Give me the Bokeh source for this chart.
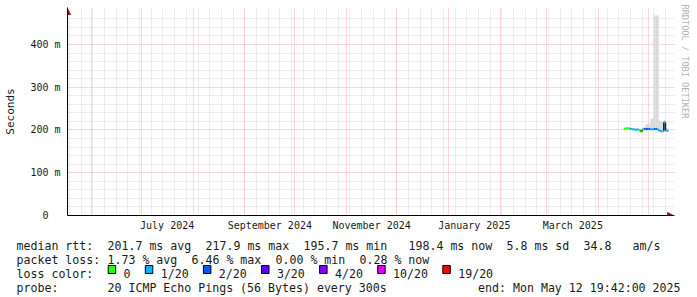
from datetime import datetime, timedelta
from bokeh.plotting import figure
from bokeh.layouts import column
from bokeh.models import (Range1d, FixedTicker, Grid, Arrow, NormalHead, Title,
                          DatetimeTickFormatter)
from bokeh.core.properties import value
from bokeh.embed import file_html
from bokeh.resources import INLINE

# ---------------- data ----------------
end_time = datetime(2025, 5, 12, 19, 42)
span_days = 360
first_day = datetime(2025, 4, 16)

median_ms = [203.0, 204.0, 204.2, 203.5, 202.2, 201.6, 201.0, 200.6, 201.0, 200.0,
             195.7, 201.0, 202.5, 202.6, 202.3, 202.5, 202.0, 201.8, 202.6, 202.4,
             201.0, 199.0, 197.2, 197.0, 217.9, 198.4, 198.4]
loss_count = [0, 0, 0, 0, 1, 1, 1, 1, 1, 0,
              0, 0, 2, 2, 2, 2, 1, 1, 2, 2,
              1, 1, 1, 1, 1, 1, 1]
smoke_lo = [201.5, 202.5, 202.5, 202.0, 200.5, 200.0, 199.5, 199.0, 199.5, 198.0,
            194.0, 199.0, 200.0, 199.0, 199.0, 199.5, 199.0, 199.0, 199.5, 199.5,
            198.5, 197.0, 195.0, 195.0, 200.0, 196.0, 196.5]
smoke_hi = [205.0, 206.0, 206.5, 206.0, 205.0, 204.5, 204.0, 203.5, 204.0, 203.0,
            199.0, 205.0, 207.0, 213.0, 214.0, 215.0, 226.0, 227.0, 468.0, 468.0,
            468.0, 222.0, 220.0, 219.0, 224.0, 205.0, 204.0]

loss_levels = [0, 1, 2, 3, 4, 10, 19]
loss_labels = ["0", "1/20", "2/20", "3/20", "4/20", "10/20", "19/20"]
loss_colors = ["#26ff00", "#00b8ff", "#0059ff", "#5e00ff", "#7e00ff", "#dd00ff", "#ff0000"]

y_max_ms = 472.5
y_ticks = [0, 100, 200, 300, 400]
y_tick_labels = ["0\u00a0\u00a0", "100 m", "200 m", "300 m", "400 m"]
label_months = [(2024, 7), (2024, 9), (2024, 11), (2025, 1), (2025, 3)]

legend_rtt = [("median rtt:", 0), ("201.7 ms avg", 13), ("217.9 ms max", 27),
              ("195.7 ms min", 41), ("198.4 ms now", 56), ("5.8 ms sd", 70),
              ("34.8", 81), ("am/s", 88)]
legend_loss = [("packet loss:", 0), ("1.73 % avg", 13), ("6.46 % max", 25),
               ("0.00 % min", 37), ("0.28 % now", 49)]
probe_label = "probe:"
probe_text = "20 ICMP Echo Pings (56 Bytes) every 300s"
end_text = "end: Mon May 12 19:42:00 2025"
watermark = "RRDTOOL / TOBI OETIKER"

# ---------------- helpers ----------------
EPOCH = datetime(1970, 1, 1)
def ms(d):
    return (d - EPOCH).total_seconds() * 1000.0

def month_start(y, m):
    return datetime(y, m, 1)

def next_month(y, m):
    return (y + 1, 1) if m == 12 else (y, m + 1)

start_time = end_time - timedelta(days=span_days)
n = len(median_ms)
t0 = [first_day + timedelta(days=i) for i in range(n)]
t1 = t0[1:] + [end_time]

def loss_color(c):
    col = loss_colors[0]
    for lv, cl in zip(loss_levels, loss_colors):
        if c >= lv:
            col = cl
    return col

MONO = "DejaVu Sans Mono"
TXT = "#1a1a1a"

# layout constants (canvas px)
W, H = 697, 297
FL, FR, FT, FB = 67, 668, 13, 215      # graph area
EXT = 6                                # extra frame room for axis arrows
CHART_H = 233
px_per_day = (FR - FL) / span_days
px_per_ms = (FB - FT) / y_max_ms
x_end_ext = end_time + timedelta(days=EXT / px_per_day)
y_top_ext = y_max_ms + EXT / px_per_ms

p = figure(width=W, height=CHART_H, x_axis_type="datetime",
           x_range=Range1d(ms(start_time), ms(x_end_ext)), y_range=Range1d(0, y_top_ext),
           output_backend="svg", toolbar_location=None,
           min_border_left=FL, min_border_right=W - FR - EXT,
           min_border_top=FT - EXT, min_border_bottom=CHART_H - FB)
p.frame_align = False
p.outline_line_color = None
p.background_fill_color = "white"
p.border_fill_color = "white"
p.xgrid.visible = False
p.ygrid.visible = False

# grids
sundays = []
d = datetime(start_time.year, start_time.month, start_time.day)
while d.weekday() != 6:
    d += timedelta(days=1)
while d < end_time:
    sundays.append(ms(d))
    d += timedelta(days=7)
month_lines = []
ym = (start_time.year, start_time.month)
while True:
    ym = next_month(*ym)
    mstart = month_start(*ym)
    if mstart > end_time:
        break
    month_lines.append(ms(mstart))
y_minor = [v for v in range(20, 480, 20) if v % 100 != 0]
y_major = [v for v in y_ticks if v > 0]

minor_col, major_col = "#dadada", "#f5b0b0"
p.add_layout(Grid(dimension=0, ticker=FixedTicker(ticks=sundays),
                  grid_line_color=minor_col, grid_line_dash="1 1"))
p.add_layout(Grid(dimension=1, ticker=FixedTicker(ticks=y_minor),
                  grid_line_color=minor_col, grid_line_dash="1 1"))
p.add_layout(Grid(dimension=0, ticker=FixedTicker(ticks=month_lines),
                  grid_line_color=major_col, grid_line_dash="1 1"))
p.add_layout(Grid(dimension=1, ticker=FixedTicker(ticks=y_major),
                  grid_line_color=major_col, grid_line_dash="1 1"))

# smoke
p.quad(left=[ms(a) for a in t0], right=[ms(b) for b in t1], bottom=smoke_lo, top=smoke_hi,
       fill_color="#d8d8d8", line_color=None)

# median line: vertical connectors (dark) and horizontal colored steps
p.segment(x0=[ms(a) for a in t0[1:]], x1=[ms(a) for a in t0[1:]],
          y0=median_ms[:-1], y1=median_ms[1:], line_color="#202020", line_width=1.5)
p.segment(x0=[ms(a) for a in t0], x1=[ms(b) for b in t1], y0=median_ms, y1=median_ms,
          line_color=[loss_color(c) for c in loss_count], line_width=2)

# axes
fmt = "%B %Y"
p.xaxis.ticker = FixedTicker(ticks=[
    (ms(month_start(y, m)) + ms(month_start(*next_month(y, m)))) / 2 for (y, m) in label_months])
p.xaxis.formatter = DatetimeTickFormatter(
    microseconds=fmt, milliseconds=fmt, seconds=fmt, minsec=fmt, minutes=fmt,
    hourmin=fmt, hours=fmt, days=fmt, months=fmt, years=fmt)
p.yaxis.ticker = FixedTicker(ticks=y_ticks)
p.yaxis.major_label_overrides = {t: l for t, l in zip(y_ticks, y_tick_labels)}
for ax in (p.xaxis[0], p.yaxis[0]):
    ax.axis_line_color = "black"
    ax.major_tick_line_color = None
    ax.minor_tick_line_color = None
    ax.major_tick_out = 0
    ax.major_tick_in = 0
    ax.minor_tick_out = 0
    ax.minor_tick_in = 0
    ax.major_label_text_font = MONO
    ax.major_label_text_font_size = "10px"
    ax.major_label_text_color = TXT
p.xaxis.major_label_standoff = 4
p.yaxis.major_label_standoff = 7
p.yaxis.axis_label = "Seconds"
p.yaxis.axis_label_text_font = MONO
p.yaxis.axis_label_text_font_size = "11px"
p.yaxis.axis_label_text_font_style = "normal"
p.yaxis.axis_label_text_color = TXT
p.yaxis.axis_label_standoff = 10

# watermark on the right side
p.add_layout(Title(text=watermark, align="left", text_font=MONO, text_font_size="8.6px",
                   text_font_style="normal", text_color="#b4b4b4", standoff=11,
                   offset=-3), "right")

# arrows (screen units relative to frame)
fw, fh = FR - FL, FB - FT
arrow_col = "#a01818"
p.add_layout(Arrow(end=NormalHead(size=6, fill_color=arrow_col, line_color=arrow_col),
                   x_start=fw - 2, y_start=0, x_end=fw + EXT - 1, y_end=0,
                   start_units="screen", end_units="screen", line_color="black", line_width=1))
p.add_layout(Arrow(end=NormalHead(size=6, fill_color=arrow_col, line_color=arrow_col),
                   x_start=0, y_start=fh - 2, x_end=0, y_end=fh + EXT - 1,
                   start_units="screen", end_units="screen", line_color="black", line_width=1))

# ---------------- legend block (canvas pixel coordinates) ----------------
lg = figure(width=W, height=H - CHART_H, x_range=Range1d(0, W), y_range=Range1d(H, CHART_H),
            output_backend="svg", toolbar_location=None, min_border=0)
lg.frame_align = False
lg.axis.visible = False
lg.grid.visible = False
lg.outline_line_color = None
lg.background_fill_color = "white"
lg.border_fill_color = "white"

CH = 7.0
LX = 16
base = [245, 259, 273, 287]
tx, ty, tt = [], [], []
def put(text, cx, cy):
    tx.append(cx); ty.append(cy); tt.append(text)

for txt, col in legend_rtt:
    put(txt, LX + col * CH, base[0])
for txt, col in legend_loss:
    put(txt, LX + col * CH, base[1])
put("loss color:", LX, base[2])
bx = []
bc = 13.1
for lab in loss_labels:
    bx.append(LX + bc * CH)
    tc = bc + 2.2
    put(lab, LX + tc * CH, base[2])
    bc = tc + len(lab) + 2.1
put(probe_label, LX, base[3])
put(probe_text, LX + 13 * CH, base[3])

lg.text(x=tx, y=ty, text=tt, text_font=value(MONO), text_font_size="11.6px",
        text_color=TXT, text_baseline="alphabetic", text_align="left")
lg.text(x=[680], y=[base[3]], text=[end_text], text_font=value(MONO), text_font_size="11.6px",
        text_color=TXT, text_baseline="alphabetic", text_align="right")
lg.quad(left=bx, right=[x + 7.5 for x in bx], top=[base[2] - 8] * len(bx),
        bottom=[base[2]] * len(bx), fill_color=loss_colors, line_color="black", line_width=1)

layout = column(p, lg, spacing=0)
open("out.html", "w").write(file_html(layout, INLINE))
